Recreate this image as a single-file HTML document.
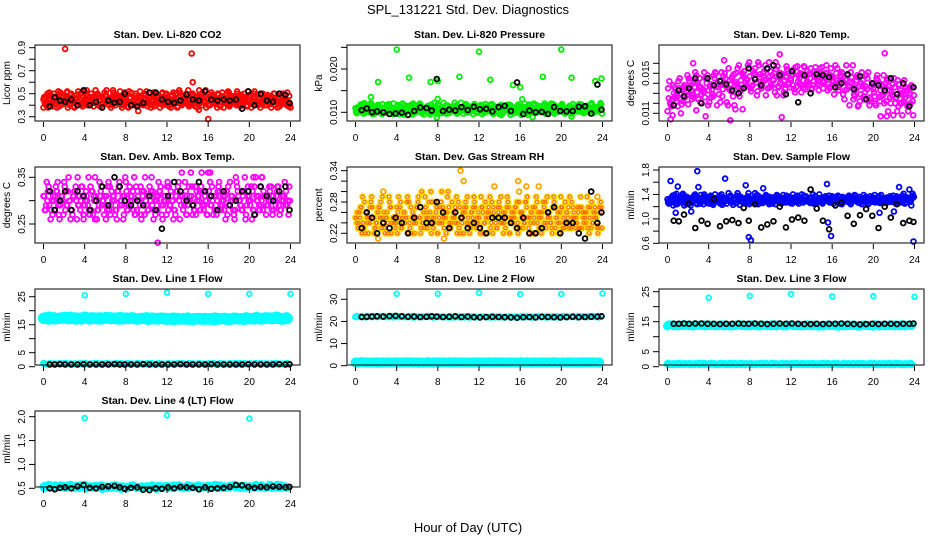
<!DOCTYPE html>
<html><head><meta charset="utf-8"><style>
html,body{margin:0;padding:0;background:#fff;}
svg{display:block;font-family:"Liberation Sans",Arial,sans-serif;}
</style></head><body>
<svg id="chart" width="936" height="540" viewBox="0 0 936 540" xmlns="http://www.w3.org/2000/svg">
<rect width="936" height="540" fill="#fff"/>
<text x="468" y="14" text-anchor="middle" font-size="13">SPL_131221  Std. Dev. Diagnostics</text>
<text x="468" y="532" text-anchor="middle" font-size="13">Hour of Day (UTC)</text>
</svg>
<script>
// shared hour arrays
const H96 = [0.0,0.25,0.5,0.75,1.0,1.25,1.5,1.75,2.0,2.25,2.5,2.75,3.0,3.25,3.5,3.75,4.0,4.25,4.5,4.75,5.0,5.25,5.5,5.75,6.0,6.25,6.5,6.75,7.0,7.25,7.5,7.75,8.0,8.25,8.5,8.75,9.0,9.25,9.5,9.75,10.0,10.25,10.5,10.75,11.0,11.25,11.5,11.75,12.0,12.25,12.5,12.75,13.0,13.25,13.5,13.75,14.0,14.25,14.5,14.75,15.0,15.25,15.5,15.75,16.0,16.25,16.5,16.75,17.0,17.25,17.5,17.75,18.0,18.25,18.5,18.75,19.0,19.25,19.5,19.75,20.0,20.25,20.5,20.75,21.0,21.25,21.5,21.75,22.0,22.25,22.5,22.75,23.0,23.25,23.5,23.75];
const H48 = [0.0,0.5,1.0,1.5,2.0,2.5,3.0,3.5,4.0,4.5,5.0,5.5,6.0,6.5,7.0,7.5,8.0,8.5,9.0,9.5,10.0,10.5,11.0,11.5,12.0,12.5,13.0,13.5,14.0,14.5,15.0,15.5,16.0,16.5,17.0,17.5,18.0,18.5,19.0,19.5,20.0,20.5,21.0,21.5,22.0,22.5,23.0,23.5];
const HB = [0.6,1.1,1.6,2.1,2.7,3.3,3.9,4.5,5.1,5.7,6.3,6.9,7.4,7.9,8.5,9.1,9.7,10.3,10.9,11.5,12.1,12.7,13.3,13.9,14.5,15.1,15.7,16.3,16.9,17.5,18.1,18.7,19.3,19.9,20.5,21.1,21.7,22.3,22.9,23.5,23.9];
const XTICKS = [0,4,8,12,16,20,24];

// CO2
const co2Main = [0.45,0.40,0.48,0.42,0.50,0.44,0.39,0.47,0.43,0.51,0.41,0.46,0.38,0.49,0.44,0.42,0.52,0.40,0.47,0.45,0.43,0.50,0.39,0.46,0.48,0.41,0.44,0.53,0.40,0.47,0.42,0.49,0.45,0.38,0.51,0.43,0.46,0.40,0.48,0.44,0.52,0.41,0.45,0.39,0.47,0.43,0.50,0.42,0.46,0.40,0.49,0.44,0.38,0.51,0.43,0.47,0.41,0.45,0.50,0.39,0.48,0.42,0.46,0.53,0.40,0.44,0.47,0.41,0.49,0.43,0.38,0.46,0.51,0.42,0.45,0.40,0.48,0.44,0.50,0.39,0.47,0.43,0.52,0.41,0.46,0.44,0.40,0.49,0.42,0.47,0.45,0.38,0.50,0.43,0.46,0.41];
const co2OutH = [2.1,14.4,14.5,16.0,0.0,9.2,15.1,24.0];
const co2OutV = [0.89,0.85,0.60,0.28,0.38,0.35,0.36,0.38];
const co2Black = [0.39,0.47,0.44,0.43,0.45,0.40,0.53,0.40,0.43,0.38,0.44,0.42,0.43,0.50,0.40,0.39,0.42,0.51,0.51,0.45,0.43,0.42,0.44,0.49,0.45,0.44,0.52,0.45,0.44,0.45,0.44,0.45,0.37,0.52,0.40,0.50,0.44,0.43,0.50,0.49,0.42];

// Pressure
const prMain = [0.0110,0.0102,0.0118,0.0098,0.0112,0.0105,0.0121,0.0100,0.0108,0.0115,0.0097,0.0111,0.0104,0.0119,0.0101,0.0109,0.0113,0.0096,0.0107,0.0117,0.0103,0.0110,0.0099,0.0114,0.0106,0.0120,0.0100,0.0108,0.0112,0.0095,0.0111,0.0104,0.0118,0.0102,0.0109,0.0115,0.0098,0.0107,0.0113,0.0101,0.0110,0.0122,0.0097,0.0106,0.0112,0.0103,0.0116,0.0100,0.0108,0.0114,0.0099,0.0111,0.0105,0.0119,0.0102,0.0109,0.0096,0.0113,0.0107,0.0117,0.0101,0.0110,0.0104,0.0115,0.0098,0.0108,0.0112,0.0094,0.0111,0.0106,0.0118,0.0103,0.0109,0.0100,0.0114,0.0107,0.0120,0.0099,0.0110,0.0105,0.0116,0.0101,0.0108,0.0113,0.0097,0.0111,0.0104,0.0119,0.0102,0.0109,0.0115,0.0100,0.0107,0.0112,0.0103,0.0110];
const prOutH = [4.0,12.0,20.0,2.2,5.2,7.3,8.0,10.1,13.1,15.3,18.2,21.0,23.3,23.9,16.0,1.5,8.0,16.2,7.9,17.2,21.0];
const prOutV = [0.0245,0.0240,0.0245,0.0170,0.0180,0.0170,0.0172,0.0182,0.0175,0.0163,0.0182,0.0180,0.0172,0.0178,0.0158,0.0135,0.0131,0.0130,0.0088,0.0089,0.0090];
const prBlack = [0.0105,0.0109,0.0100,0.0102,0.0100,0.0096,0.0097,0.0099,0.0094,0.0103,0.0111,0.0110,0.0104,0.0177,0.0103,0.0106,0.0104,0.0112,0.0105,0.0113,0.0107,0.0108,0.0102,0.0112,0.0115,0.0103,0.0169,0.0096,0.0104,0.0100,0.0101,0.0096,0.0112,0.0103,0.0102,0.0103,0.0113,0.0114,0.0097,0.0164,0.0106];

// Li-820 temp
const tpMain = [0.0112,0.0120,0.0108,0.0125,0.0117,0.0130,0.0122,0.0135,0.0119,0.0138,0.0128,0.0142,0.0124,0.0136,0.0131,0.0145,0.0133,0.0126,0.0148,0.0137,0.0129,0.0151,0.0140,0.0121,0.0134,0.0145,0.0118,0.0139,0.0127,0.0150,0.0136,0.0143,0.0147,0.0138,0.0155,0.0132,0.0149,0.0141,0.0158,0.0135,0.0152,0.0144,0.0161,0.0137,0.0150,0.0128,0.0146,0.0139,0.0143,0.0154,0.0136,0.0148,0.0131,0.0157,0.0140,0.0149,0.0134,0.0152,0.0145,0.0138,0.0156,0.0142,0.0150,0.0135,0.0147,0.0139,0.0155,0.0142,0.0150,0.0133,0.0148,0.0141,0.0158,0.0136,0.0146,0.0129,0.0143,0.0137,0.0151,0.0124,0.0134,0.0118,0.0140,0.0127,0.0148,0.0122,0.0137,0.0131,0.0145,0.0126,0.0139,0.0120,0.0143,0.0133,0.0128,0.0136];
const tpOutH = [2.5,5.5,6.1,1.3,3.7,10.9,11.1,21.1,20.7,21.3,18.5,0.3,2.8,6.6,7.3];
const tpOutV = [0.0160,0.0163,0.0103,0.0110,0.0107,0.0169,0.0106,0.0170,0.0107,0.0107,0.0117,0.0104,0.0113,0.0114,0.0114];
const tpBlack = [0.0118,0.0133,0.0127,0.0135,0.0145,0.0120,0.0145,0.0138,0.0142,0.0139,0.0133,0.0130,0.0135,0.0155,0.0144,0.0138,0.0155,0.0158,0.0148,0.0129,0.0152,0.0121,0.0148,0.0130,0.0149,0.0148,0.0146,0.0136,0.0140,0.0149,0.0134,0.0147,0.0124,0.0140,0.0138,0.0133,0.0145,0.0129,0.0140,0.0117,0.0136];

// Amb box temp
const abMain = [0.31,0.29,0.33,0.28,0.30,0.32,0.27,0.31,0.34,0.29,0.30,0.28,0.32,0.26,0.31,0.33,0.29,0.30,0.27,0.32,0.35,0.28,0.31,0.30,0.29,0.33,0.27,0.31,0.28,0.32,0.30,0.26,0.34,0.29,0.31,0.28,0.33,0.30,0.27,0.32,0.29,0.31,0.35,0.28,0.30,0.32,0.27,0.31,0.33,0.29,0.30,0.28,0.32,0.26,0.31,0.34,0.29,0.30,0.27,0.33,0.31,0.28,0.32,0.30,0.36,0.29,0.27,0.31,0.33,0.28,0.30,0.32,0.29,0.31,0.27,0.34,0.30,0.28,0.32,0.29,0.31,0.26,0.33,0.30,0.28,0.35,0.31,0.29,0.32,0.27,0.30,0.33,0.28,0.31,0.29,0.30];
const abOutH = [11.1,16.2,3.9,5.0,9.5,20.4,21.2,0.2];
const abOutV = [0.21,0.36,0.26,0.26,0.26,0.35,0.35,0.28];
const abBlack = [0.32,0.28,0.30,0.32,0.28,0.32,0.31,0.28,0.30,0.33,0.29,0.35,0.33,0.30,0.29,0.30,0.29,0.31,0.28,0.24,0.31,0.34,0.32,0.30,0.29,0.34,0.32,0.31,0.28,0.32,0.29,0.30,0.32,0.32,0.27,0.33,0.31,0.30,0.32,0.33,0.28];

// Gas stream RH
const rhMain = [0.25,0.23,0.27,0.24,0.26,0.22,0.28,0.25,0.24,0.27,0.23,0.26,0.25,0.29,0.22,0.24,0.27,0.25,0.23,0.26,0.28,0.24,0.25,0.22,0.27,0.25,0.24,0.29,0.23,0.26,0.25,0.28,0.22,0.24,0.27,0.25,0.30,0.23,0.26,0.24,0.28,0.25,0.22,0.27,0.24,0.26,0.29,0.23,0.25,0.27,0.24,0.22,0.26,0.28,0.25,0.23,0.27,0.24,0.26,0.29,0.22,0.25,0.27,0.24,0.26,0.23,0.28,0.25,0.24,0.27,0.22,0.26,0.25,0.28,0.23,0.26,0.24,0.29,0.25,0.22,0.27,0.24,0.26,0.23,0.28,0.25,0.24,0.27,0.23,0.26,0.29,0.25,0.24,0.27,0.23,0.26];
const rhOutH = [10.2,10.5,13.5,15.8,16.6,17.8,2.7,2.2,8.6,15.9,23.5];
const rhOutV = [0.34,0.32,0.31,0.32,0.31,0.31,0.30,0.21,0.21,0.30,0.29];
const rhBlack = [0.23,0.26,0.25,0.22,0.24,0.23,0.25,0.24,0.22,0.25,0.27,0.24,0.24,0.28,0.26,0.23,0.26,0.25,0.23,0.24,0.23,0.22,0.25,0.25,0.25,0.24,0.23,0.25,0.22,0.22,0.23,0.26,0.27,0.22,0.24,0.24,0.22,0.21,0.30,0.24,0.26];

// Sample flow
const sfMain = [1.32,1.28,1.38,1.25,1.35,1.30,1.41,1.27,1.33,1.22,1.36,1.31,1.29,1.39,1.24,1.34,1.30,1.37,1.26,1.33,1.28,1.40,1.31,1.25,1.35,1.29,1.32,1.38,1.23,1.34,1.30,1.36,1.27,1.33,1.42,1.29,1.31,1.26,1.37,1.32,1.28,1.35,1.24,1.33,1.30,1.39,1.27,1.34,1.31,1.29,1.36,1.25,1.33,1.38,1.30,1.28,1.35,1.32,1.26,1.40,1.31,1.29,1.34,1.27,1.37,1.30,1.33,1.25,1.36,1.31,1.28,1.35,1.30,1.38,1.27,1.33,1.29,1.36,1.24,1.32,1.35,1.30,1.28,1.39,1.31,1.26,1.34,1.33,1.29,1.37,1.30,1.27,1.35,1.32,1.28,1.33];
const sfOutH = [0.3,0.8,1.0,2.3,2.9,3.0,5.6,7.6,7.9,8.1,9.3,15.5,15.9,15.6,22.5,22.0,23.5,23.9,20.6];
const sfOutV = [1.62,1.10,1.53,1.12,1.78,1.52,1.66,1.55,0.70,0.65,1.50,1.57,0.72,0.94,1.52,1.12,1.48,0.63,1.10];
const sfBlack = [0.97,0.96,1.07,1.25,0.85,0.97,0.92,1.32,0.88,0.96,0.98,0.93,1.18,0.97,1.24,0.86,0.91,0.96,1.20,0.86,0.99,1.02,0.97,1.48,1.17,0.97,0.83,1.22,1.27,1.05,0.92,1.06,1.16,1.05,0.85,1.20,1.02,1.24,0.93,0.97,0.95];

// Line flows
const l1Hi = [17.3,17.0,17.5,17.2,17.6,17.1,17.4,17.3,17.7,17.0,17.2,17.5,17.4,17.1,17.3,17.6,17.2,17.4,17.0,17.3,17.5,17.1,17.2,17.4,17.3,17.0,17.2,17.1,17.4,17.0,17.2,16.9,17.1,17.3,17.0,17.2,16.8,17.1,17.0,16.9,17.2,17.0,17.3,17.1,17.4,17.2,17.3,17.1];
const l1Lo = [1.2,1.0,1.1,1.0,1.2,1.0,1.1,1.0,1.1,1.0,1.2,1.0,1.1,1.0,1.1,1.2,1.0,1.1,1.0,1.1,1.0,1.2,1.0,1.1,1.0,1.1,1.0,1.2,1.0,1.1,1.0,1.1,1.0,1.2,1.0,1.1,1.0,1.1,1.0,1.2,1.0,1.1,1.0,1.1,1.0,1.2,1.0,1.1];
const l1OutH = [4,8,12,16,20,24];
const l1OutV = [25.5,26.0,26.5,26.0,26.0,26.0];
const l1Black = [0.8,0.8,0.9,0.8,0.8,0.8,0.9,0.8,0.8,0.8,0.8,0.9,0.8,0.8,0.8,0.8,0.9,0.8,0.8,0.8,0.8,0.8,0.9,0.8,0.8,0.8,0.8,0.9,0.8,0.8,0.8,0.8,0.8,0.9,0.8,0.8,0.8,0.8,0.9,0.8,0.9];

const l2Hi = [22.0,22.2,21.9,22.3,22.1,22.4,22.0,22.2,22.3,22.1,22.0,22.4,22.2,22.1,22.3,22.0,22.2,22.1,21.9,22.2,22.0,22.3,21.8,22.1,22.0,22.2,21.9,22.1,22.0,21.8,22.2,21.9,22.0,22.1,21.9,22.2,22.0,21.8,22.1,22.0,22.2,21.9,22.1,22.0,22.2,22.1,22.3,22.2];
const l2Lo = [1.5,1.6,1.4,1.5,1.6,1.5,1.4,1.5,1.6,1.5,1.5,1.4,1.6,1.5,1.5,1.3,1.5,1.6,1.5,1.4,1.5,1.6,1.5,1.5,1.4,1.5,1.6,1.5,1.5,1.4,1.6,1.5,1.5,1.4,1.5,1.6,1.5,1.5,1.4,1.6,1.5,1.5,1.4,1.5,1.6,1.5,1.5,1.4];
const l2OutH = [4,8,12,16,20,24];
const l2OutV = [32.5,32.5,33.0,32.3,32.4,32.6];
const l2Black = [22.0,22.1,22.2,22.3,22.2,22.4,22.5,22.3,22.1,22.2,22.0,22.1,22.3,22.2,22.0,22.1,22.3,22.0,22.2,21.9,21.8,22.0,22.1,22.0,21.9,21.8,21.7,21.9,22.0,21.8,22.1,22.0,21.9,21.8,22.0,22.1,21.9,22.0,22.1,22.2,22.3];

const l3Hi = [13.6,13.9,13.7,14.0,13.8,13.6,13.9,13.7,14.0,13.8,13.7,13.9,13.6,13.8,14.0,13.7,13.8,13.9,13.6,13.8,13.7,14.0,13.8,13.6,13.9,13.7,13.8,14.0,13.6,13.8,13.7,13.9,13.8,13.6,13.9,13.7,13.8,13.6,13.9,13.7,13.5,13.8,13.7,13.9,13.6,13.8,13.7,13.9];
const l3Lo = [0.9,0.8,1.0,0.8,0.9,0.8,0.9,1.0,0.8,0.9,0.8,0.9,0.8,1.0,0.9,0.8,0.9,0.8,0.9,1.0,0.8,0.9,0.8,0.9,0.8,1.0,0.9,0.8,0.9,0.8,0.9,1.0,0.8,0.9,0.8,0.9,0.8,1.0,0.9,0.8,0.9,0.8,0.9,1.0,0.8,0.9,0.8,0.9];
const l3OutH = [4,8,12,16,20,24];
const l3OutV = [23.0,23.6,24.2,23.4,23.5,23.3];
const l3Black = [14.3,14.3,14.4,14.3,14.4,14.4,14.3,14.3,14.2,14.3,14.3,14.4,14.3,14.3,14.4,14.3,14.2,14.3,14.4,14.3,14.4,14.3,14.2,14.2,14.3,14.2,14.3,14.3,14.4,14.3,14.2,14.1,14.2,14.3,14.2,14.3,14.3,14.2,14.3,14.3,14.4];

const l4Hi = [0.53,0.55,0.51,0.54,0.52,0.56,0.53,0.51,0.57,0.54,0.52,0.55,0.53,0.51,0.56,0.54,0.52,0.55,0.53,0.50,0.54,0.52,0.49,0.53,0.55,0.51,0.54,0.52,0.56,0.53,0.51,0.54,0.52,0.55,0.53,0.51,0.54,0.56,0.52,0.55,0.53,0.51,0.54,0.52,0.57,0.53,0.51,0.54];
const l4OutH = [4,12,20];
const l4OutV = [1.97,2.03,1.96];
const l4Black = [0.50,0.48,0.51,0.52,0.50,0.54,0.57,0.51,0.50,0.53,0.54,0.55,0.52,0.49,0.51,0.52,0.47,0.46,0.50,0.49,0.52,0.50,0.53,0.52,0.51,0.48,0.52,0.49,0.50,0.51,0.53,0.57,0.56,0.53,0.51,0.53,0.52,0.54,0.53,0.52,0.53];

const NS = 'http://www.w3.org/2000/svg';
const svg = document.getElementById('chart');
const COLX = [35, 347, 659];
const ROWY = [45, 167, 289, 411];
const W = 265, HGT = 76;

function mk(tag, attrs, parent) {
  const e = document.createElementNS(NS, tag);
  for (const k in attrs) e.setAttribute(k, attrs[k]);
  parent.appendChild(e);
  return e;
}

function panel(p) {
  const L = COLX[p.col], T = ROWY[p.row], R = L + W, B = T + HGT;
  const g = mk('g', {}, svg);
  
  
  const xs = h => L + 8.5 + h * ((W - 18) / 24);
  const ys = v => p.y0px + (v - p.v0) / (p.v1 - p.v0) * (p.y1px - p.y0px) + T;
  const t = mk('text', {x: L + W / 2, y: T - 7, 'text-anchor': 'middle', 'font-size': 10.5, 'font-weight': 'bold'}, g);
  t.textContent = p.title;
  
  
  const drawSet = (hs, vs, color, r, sw, nm, dense) => {
    const sg = mk('g', {fill: 'none', stroke: color, 'stroke-width': sw}, g);
    
    
    const passes = dense ? [[0, 0], [0.125, 3], [0.0625, 7], [0.1875, 11]] : [[0, 0]];
    passes.forEach(([dh, off]) => {
      for (let i = 0; i < vs.length; i++) {
        const v = vs[(i + off) % vs.length];
        const c = mk('circle', {cx: xs(hs[i] + dh).toFixed(1), cy: ys(v).toFixed(1), r: r}, sg);
        
        
      }
    });
  };
  p.sets.forEach(s => drawSet(s.h, s.v, s.c, s.r || 2.4, s.sw || 1.8, s.n, s.d));
  const bx = mk('rect', {x: L, y: T, width: W, height: HGT, fill: 'none', stroke: '#000', 'stroke-width': 1}, g);
  
  
  const xa = mk('g', {}, g);
  
  
  XTICKS.forEach(h => {
    mk('line', {x1: xs(h), x2: xs(h), y1: B + 1, y2: B + 6, stroke: '#000'}, xa);
    const tl = mk('text', {x: xs(h), y: B + 20, 'text-anchor': 'middle', 'font-size': 10}, xa);
    tl.textContent = h;
  });
  const ya = mk('g', {}, g);
  
  
  p.yticks.forEach(v => {
    mk('line', {x1: L - 6, x2: L, y1: ys(v), y2: ys(v), stroke: '#000'}, ya);
  });
  p.ylabels.forEach(v => {
    const yy = ys(v);
    const tl = mk('text', {x: 0, y: 0, 'text-anchor': 'middle', 'font-size': 10, transform: `translate(${L - 10},${yy}) rotate(-90)`}, ya);
    tl.textContent = p.fmt(v);
  });
  const yt = mk('text', {'text-anchor': 'middle', 'font-size': 10, transform: `translate(${L - 25},${T + HGT / 2}) rotate(-90)`}, g);
  yt.textContent = p.ytitle;
  
  
}

const f1 = v => v.toFixed(1), f2 = v => v.toFixed(2), f3 = v => v.toFixed(3), f0 = v => String(v);

panel({name:'co2', col:0,row:0,title:'Stan. Dev. Li-820 CO2', ytitle:'Licor ppm', v0:0.3,v1:0.9,y0px:71.7,y1px:2.7,
  yticks:[0.3,0.4,0.5,0.6,0.7,0.8,0.9], ylabels:[0.3,0.5,0.7,0.9], fmt:f1,
  sets:[{h:H96,v:co2Main,c:'#ff0000',n:'co2-series',d:true},{h:co2OutH,v:co2OutV,c:'#ff0000',n:'co2-outliers'},{h:HB,v:co2Black,c:'#000',n:'co2-black-series'}]});
panel({name:'pressure', col:1,row:0,title:'Stan. Dev. Li-820 Pressure', ytitle:'kPa', v0:0.010,v1:0.020,y0px:67.3,y1px:24,
  yticks:[0.010,0.015,0.020,0.025], ylabels:[0.010,0.020], fmt:f3,
  sets:[{h:H96,v:prMain,c:'#00ee00',n:'pressure-series',d:true},{h:prOutH,v:prOutV,c:'#00ee00',n:'pressure-outliers'},{h:HB,v:prBlack,c:'#000',n:'pressure-black-series'}]});
panel({name:'temp', col:2,row:0,title:'Stan. Dev. Li-820 Temp.', ytitle:'degrees C', v0:0.011,v1:0.016,y0px:68.3,y1px:18.3,
  yticks:[0.011,0.012,0.013,0.014,0.015,0.016], ylabels:[0.011,0.015], fmt:f3,
  sets:[{h:H96,v:tpMain,c:'#ff00ff',n:'temp-series',d:true},{h:tpOutH,v:tpOutV,c:'#ff00ff',n:'temp-outliers'},{h:HB,v:tpBlack,c:'#000',n:'temp-black-series'}]});
panel({name:'ambbox', col:0,row:1,title:'Stan. Dev. Amb. Box Temp.', ytitle:'degrees C', v0:0.25,v1:0.35,y0px:57,y1px:10.3,
  yticks:[0.25,0.30,0.35], ylabels:[0.25,0.35], fmt:f2,
  sets:[{h:H96,v:abMain,c:'#ff00ff',n:'ambbox-series',d:true},{h:abOutH,v:abOutV,c:'#ff00ff',n:'ambbox-outliers'},{h:HB,v:abBlack,c:'#000',n:'ambbox-black-series'}]});
panel({name:'rh', col:1,row:1,title:'Stan. Dev. Gas Stream RH', ytitle:'percent', v0:0.22,v1:0.34,y0px:66.3,y1px:3.7,
  yticks:[0.22,0.24,0.26,0.28,0.30,0.32,0.34], ylabels:[0.22,0.28,0.34], fmt:f2,
  sets:[{h:H96,v:rhMain,c:'#ffd700',sw:2.2,n:'rh-series-yellow',d:true},{h:H96,v:rhMain,c:'#ff6a00',r:1.5,sw:1,n:'rh-series',d:true},{h:rhOutH,v:rhOutV,c:'#ffa500',n:'rh-outliers'},{h:HB,v:rhBlack,c:'#000',n:'rh-black-series'}]});
panel({name:'sampleflow', col:2,row:1,title:'Stan. Dev. Sample Flow', ytitle:'ml/min', v0:0.6,v1:1.8,y0px:76.3,y1px:3,
  yticks:[0.6,0.8,1.0,1.2,1.4,1.6,1.8], ylabels:[0.6,1.0,1.4,1.8], fmt:f1,
  sets:[{h:H96,v:sfMain,c:'#0000ff',n:'sampleflow-series',d:true},{h:sfOutH,v:sfOutV,c:'#0000ff',n:'sampleflow-outliers'},{h:HB,v:sfBlack,c:'#000',n:'sampleflow-black-series'}]});
panel({name:'line1', col:0,row:2,title:'Stan. Dev. Line 1 Flow', ytitle:'ml/min', v0:0,v1:25,y0px:77.7,y1px:7.7,
  yticks:[0,5,10,15,20,25], ylabels:[0,5,15,25], fmt:f0,
  sets:[{h:H48,v:l1Hi,c:'#00ffff',r:3.6,sw:4,n:'line1-series',d:true},{h:H48,v:l1Lo,c:'#00ffff',r:2.4,sw:2,n:'line1-low-series',d:true},{h:l1OutH,v:l1OutV,c:'#00ffff',n:'line1-outliers'},{h:HB,v:l1Black,c:'#000',n:'line1-black-series'}]});
panel({name:'line2', col:1,row:2,title:'Stan. Dev. Line 2 Flow', ytitle:'ml/min', v0:0,v1:30,y0px:76.7,y1px:10.3,
  yticks:[0,10,20,30], ylabels:[0,10,20,30], fmt:f0,
  sets:[{h:H48,v:l2Hi,c:'#00ffff',r:2.4,sw:2,n:'line2-series',d:true},{h:H48,v:l2Lo,c:'#00ffff',r:3.2,sw:3.5,n:'line2-low-series',d:true},{h:l2OutH,v:l2OutV,c:'#00ffff',n:'line2-outliers'},{h:HB,v:l2Black,c:'#000',n:'line2-black-series'}]});
panel({name:'line3', col:2,row:2,title:'Stan. Dev. Line 3 Flow', ytitle:'ml/min', v0:0,v1:25,y0px:77.7,y1px:2.7,
  yticks:[0,5,10,15,20,25], ylabels:[0,5,15,25], fmt:f0,
  sets:[{h:H48,v:l3Hi,c:'#00ffff',r:3,sw:3,n:'line3-series',d:true},{h:H48,v:l3Lo,c:'#00ffff',r:2.6,sw:2.6,n:'line3-low-series',d:true},{h:l3OutH,v:l3OutV,c:'#00ffff',n:'line3-outliers'},{h:HB,v:l3Black,c:'#000',n:'line3-black-series'}]});
panel({name:'line4', col:0,row:3,title:'Stan. Dev. Line 4 (LT) Flow', ytitle:'ml/min', v0:0.5,v1:2.0,y0px:77.3,y1px:5.7,
  yticks:[0.5,1.0,1.5,2.0], ylabels:[0.5,1.0,1.5,2.0], fmt:f1,
  sets:[{h:H48,v:l4Hi,c:'#00ffff',r:2.8,sw:2.8,n:'line4-series',d:true},{h:l4OutH,v:l4OutV,c:'#00ffff',n:'line4-outliers'},{h:HB,v:l4Black,c:'#000',n:'line4-black-series'}]});
</script>
</body></html>
